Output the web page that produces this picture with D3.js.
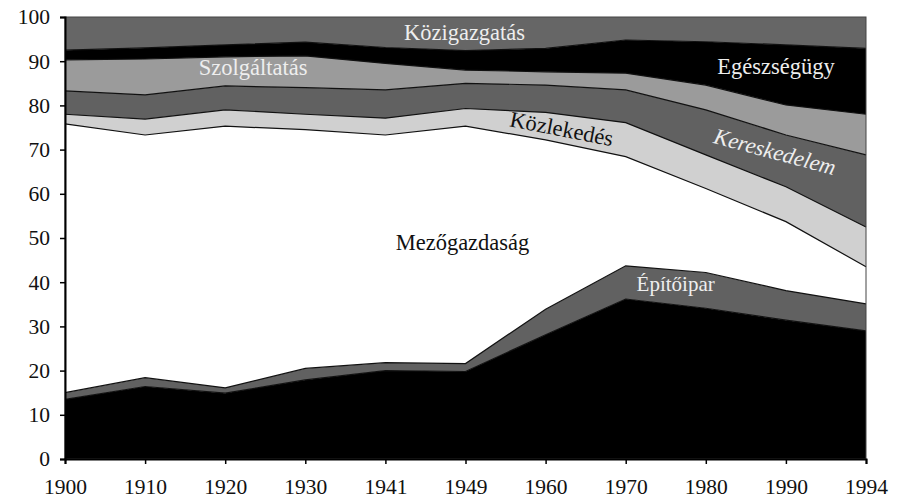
<!DOCTYPE html>
<html>
<head>
<meta charset="utf-8">
<script src="https://cdn.jsdelivr.net/npm/d3@7"></script>
<style>
  body { margin: 0; background: #fff; }
  svg { display: block; font-family: "Liberation Serif", "DejaVu Serif", serif; }
</style>
</head>
<body>
<svg id="chart" width="900" height="501"></svg>
<script>
// years on the x axis (equally spaced, as in the original)
const years = ['1900', '1910', '1920', '1930', '1941', '1949', '1960', '1970', '1980', '1990', '1994'];

// share of employed by sector, % (bottom to top)
const ipar         = [13.5, 16.4, 14.9, 17.9, 20.0, 19.8, 28.1, 36.2, 34.1, 31.4, 29.0];
const epitoipar    = [1.5, 2.0, 1.2, 2.6, 1.8, 1.8, 5.8, 7.5, 8.1, 6.7, 6.1];
const mezogazdasag = [60.8, 54.9, 59.2, 54.0, 51.5, 53.7, 38.3, 24.7, 19.0, 15.6, 8.4];
const kozlekedes   = [2.2, 3.6, 3.7, 3.5, 3.8, 4.0, 6.2, 7.7, 7.6, 7.9, 9.0];
const kereskedelem = [5.3, 5.5, 5.4, 6.0, 6.4, 5.7, 6.2, 7.4, 10.2, 11.7, 16.3];
const szolgaltatas = [7.0, 8.1, 6.6, 7.2, 6.0, 3.0, 3.0, 3.8, 5.6, 6.8, 9.2];
const egeszsegugy  = [2.2, 2.5, 2.7, 3.1, 3.6, 4.4, 5.3, 7.5, 9.8, 13.6, 14.9];
const kozigazgatas = [7.5, 7.0, 6.3, 5.7, 6.9, 7.6, 7.1, 5.2, 5.6, 6.3, 7.1];

const yTicks = [0, 10, 20, 30, 40, 50, 60, 70, 80, 90, 100];

const series = [
  { key: 'ipar', values: ipar, fill: '#000' },
  { key: 'epitoipar', values: epitoipar, fill: '#616161' },
  { key: 'mezogazdasag', values: mezogazdasag, fill: '#fff' },
  { key: 'kozlekedes', values: kozlekedes, fill: '#d0d0d0' },
  { key: 'kereskedelem', values: kereskedelem, fill: '#616161' },
  { key: 'szolgaltatas', values: szolgaltatas, fill: '#9b9b9b' },
  { key: 'egeszsegugy', values: egeszsegugy, fill: '#000' },
  { key: 'kozigazgatas', values: kozigazgatas, fill: '#666' }
];

const table = years.map((year, i) => {
  const row = { year };
  series.forEach(s => { row[s.key] = s.values[i]; });
  return row;
});

const margin = { top: 17, right: 34, bottom: 42, left: 65 };
const width = 900 - margin.left - margin.right;
const height = 501 - margin.top - margin.bottom;

const svg = d3.select('#chart');
const g = svg.append('g').attr('transform', `translate(${margin.left},${margin.top})`);

const x = d3.scalePoint().domain(years).range([0, width]);
const y = d3.scaleLinear().domain([0, 100]).range([height, 0]);

const stack = d3.stack().keys(series.map(s => s.key));
const layers = stack(table);

const area = d3.area()
  .x(d => x(d.data.year))
  .y0(d => y(d[0]))
  .y1(d => y(d[1]));

const topLine = d3.line()
  .x(d => x(d.data.year))
  .y(d => y(d[1]));

g.selectAll('path.layer')
  .data(layers)
  .join('path')
  .attr('class', 'layer')
  .attr('d', area)
  .attr('fill', (d, i) => series[i].fill);

g.selectAll('path.edge')
  .data(layers.slice(0, -1))
  .join('path')
  .attr('class', 'edge')
  .attr('d', topLine)
  .attr('fill', 'none')
  .attr('stroke', '#111')
  .attr('stroke-width', 1.2);

// frame
g.append('rect')
  .attr('width', width)
  .attr('height', height)
  .attr('fill', 'none')
  .attr('stroke', '#444')
  .attr('stroke-width', 1);

// axes
const yAxis = g.append('g')
  .call(d3.axisLeft(y).tickValues(yTicks).tickSize(5).tickPadding(10));
const xAxis = g.append('g')
  .attr('transform', `translate(0,${height})`)
  .call(d3.axisBottom(x).tickSize(5).tickPadding(15));

[yAxis, xAxis].forEach(ax => {
  ax.select('.domain').attr('stroke', '#000').attr('stroke-width', 2);
  ax.selectAll('.tick line').attr('stroke', '#000').attr('stroke-width', 1.5);
  ax.selectAll('.tick text')
    .attr('fill', '#111')
    .style('font-family', '"Liberation Serif", serif')
    .style('font-size', '21.5px');
});

// in-chart labels
const labels = [
  { text: 'Közigazgatás', i: 5, v: 96.4, dx: -1, fill: '#eee', size: 22.5 },
  { text: 'Szolgáltatás', i: 2, v: 88.5, dx: 28, fill: '#eee', size: 22.5 },
  { text: 'Egészségügy', i: 9, v: 88.9, dx: -10, fill: '#eee', size: 22.5 },
  { text: 'Kereskedelem', i: 9, v: 69.5, dx: -11, fill: '#eee', size: 22.5, rot: 15, italic: true },
  { text: 'Közlekedés', i: 6, v: 74.7, dx: 16, fill: '#111', size: 22.5, rot: 11 },
  { text: 'Mezőgazdaság', i: 5, v: 48.9, dx: -3, fill: '#111', size: 22.5 },
  { text: 'Építőipar', i: 7, v: 39.6, dx: 50, fill: '#eee', size: 21 }
];

g.selectAll('text.label')
  .data(labels)
  .join('text')
  .attr('class', 'label')
  .attr('transform', d => `translate(${x(years[d.i]) + d.dx},${y(d.v)}) rotate(${d.rot || 0})`)
  .attr('text-anchor', 'middle')
  .attr('dominant-baseline', 'central')
  .attr('fill', d => d.fill)
  .style('font-size', d => d.size + 'px')
  .style('font-style', d => d.italic ? 'italic' : 'normal')
  .text(d => d.text);
</script>
</body>
</html>
